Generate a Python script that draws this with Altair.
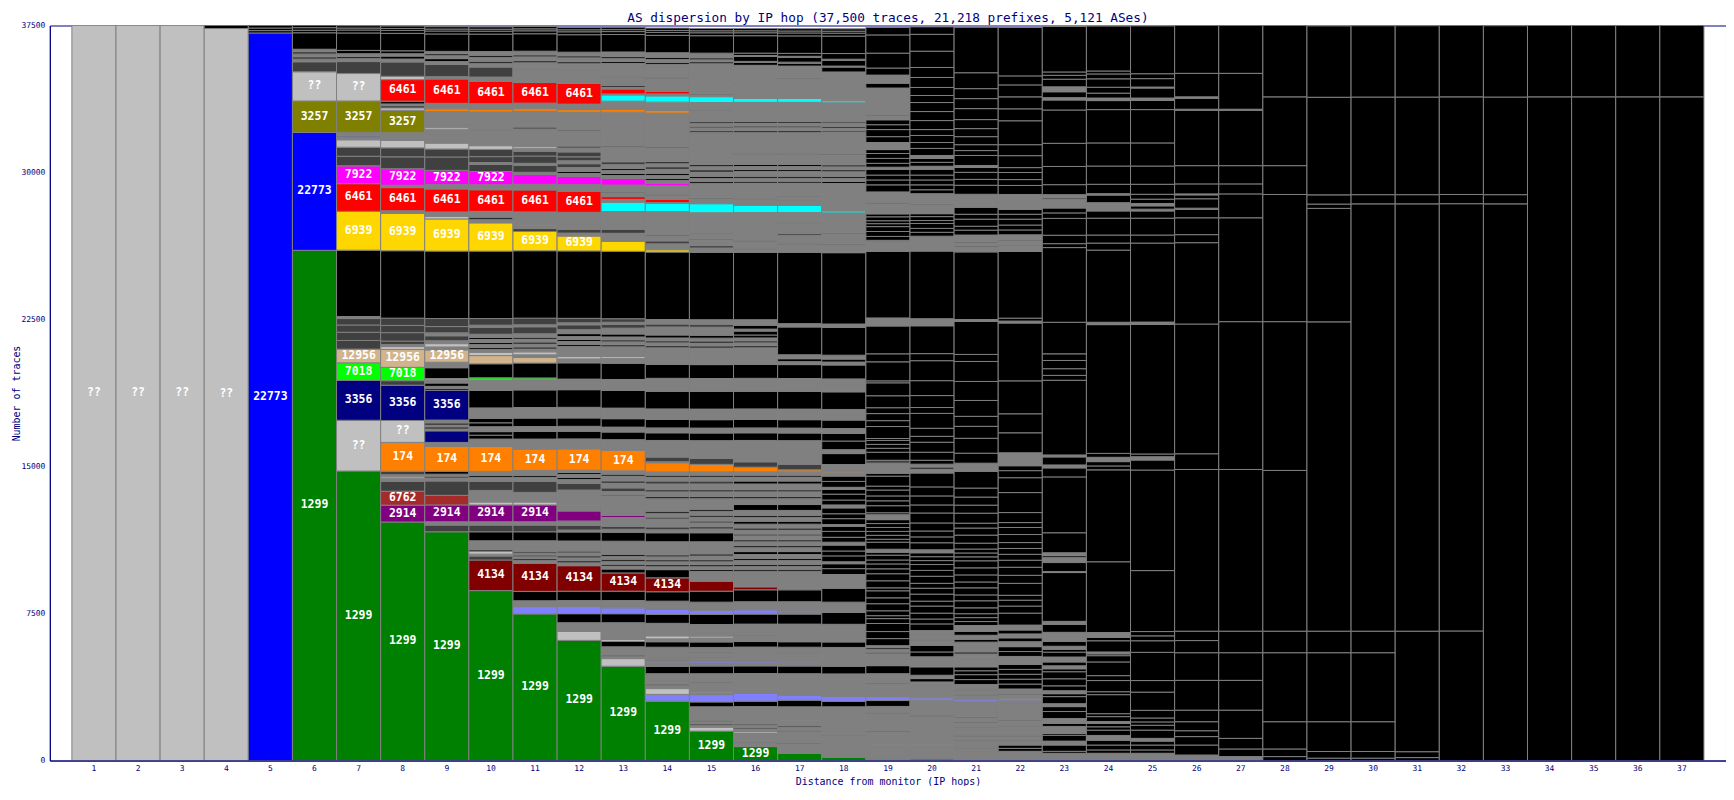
import altair as alt
import pandas as pd

# Segments of each hop column, bottom to top: (number of traces, AS / class key)
# keys: AS numbers, "??" = unresolved, "g" = other AS (gray), "d" = other AS (dark gray),
#       "k" = no response (black), "a" = unlabeled AS (slate blue), "c" = unlabeled AS (cyan)
hop01 = [(37500, "??")]
hop02 = [(37500, "??")]
hop03 = [(37500, "??")]
hop04 = [(37350, "??"), (150, "k")]
hop05 = [(37120, "22773"), (120, "k"), (130, "k"), (130, "k")]
hop06 = [(26030, "1299"), (6010, "22773"), (1610, "3257"), (1490, "??"), (510, "d"), (130, "g"), (130, "d"),
         (130, "g"), (130, "d"), (120, "g"), (840, "k"), (130, "k"), (130, "k"), (120, "k")]
hop07 = [(14770, "1299"), (2590, "??"), (2030, "3356"), (900, "7018"), (700, "12956"), (440, "d"), (420, "d"),
         (370, "d"), (330, "d"), (100, "g"), (3390, "k"), (1980, "6939"), (1410, "6461"), (910, "7922"), (490, "d"),
         (460, "d"), (380, "??"), (150, "g"), (50, "22773"), (180, "g"), (1600, "3257"), (1400, "??"), (610, "d"),
         (150, "g"), (100, "k"), (150, "g"), (170, "k"), (890, "k"), (150, "k"), (100, "k"), (120, "k")]
hop08 = [(12170, "1299"), (860, "2914"), (710, "6762"), (510, "d"), (150, "g"), (80, "??"), (100, "g"), (180, "d"),
         (1470, "174"), (1120, "??"), (1800, "3356"), (230, "d"), (680, "7018"), (910, "12956"), (150, "??"),
         (100, "g"), (180, "d"), (430, "d"), (370, "d"), (370, "d"), (3440, "k"), (1900, "6939"), (140, "g"),
         (1180, "6461"), (120, "g"), (840, "7922"), (610, "d"), (460, "d"), (380, "??"), (390, "g"), (1140, "3257"),
         (130, "??"), (100, "k"), (100, "g"), (140, "k"), (1100, "6461"), (170, "??"), (730, "d"), (150, "g"),
         (150, "k"), (120, "g"), (150, "k"), (890, "k"), (150, "k"), (100, "k"), (120, "k")]
hop09 = [(11670, "1299"), (340, "d"), (170, "g"), (860, "2914"), (490, "6762"), (730, "d"), (150, "g"), (100, "d"),
         (100, "g"), (150, "k"), (1270, "174"), (200, "g"), (590, "3356"), (100, "g"), (100, "k"), (100, "g"),
         (100, "k"), (150, "g"), (1520, "3356"), (100, "3356"), (100, "g"), (170, "k"), (150, "g"), (80, "7018"),
         (550, "k"), (280, "g"), (630, "12956"), (150, "g"), (170, "??"), (150, "g"), (250, "d"), (150, "g"),
         (320, "d"), (410, "d"), (3440, "k"), (1640, "6939"), (140, "??"), (220, "g"), (1170, "6461"), (220, "g"),
         (730, "7922"), (680, "d"), (410, "d"), (300, "??"), (510, "g"), (200, "g"), (100, "??"), (120, "g"),
         (680, "g"), (140, "174"), (280, "g"), (1240, "6461"), (120, "g"), (620, "d"), (150, "g"), (150, "k"),
         (150, "g"), (100, "k"), (120, "g"), (890, "k"), (150, "k"), (100, "k"), (120, "k")]
hop10 = [(8670, "1299"), (1560, "4134"), (200, "d"), (100, "g"), (140, "??"), (100, "d"), (100, "g"), (340, "g"),
         (460, "k"), (340, "d"), (170, "g"), (860, "2914"), (150, "??"), (490, "g"), (100, "g"), (470, "d"),
         (200, "g"), (100, "k"), (200, "g"), (1270, "174"), (380, "g"), (200, "k"), (180, "k"), (250, "g"),
         (200, "k"), (220, "k"), (540, "g"), (900, "k"), (200, "g"), (300, "g"), (140, "7018"), (710, "k"),
         (420, "12956"), (170, "??"), (150, "g"), (100, "k"), (150, "g"), (100, "k"), (150, "g"), (100, "k"),
         (170, "g"), (360, "d"), (100, "g"), (340, "d"), (3440, "k"), (1440, "6939"), (190, "g"), (100, "k"),
         (300, "g"), (1100, "6461"), (250, "g"), (680, "7922"), (360, "d"), (100, "g"), (300, "d"), (370, "d"),
         (190, "??"), (620, "g"), (150, "g"), (50, "3356"), (220, "g"), (680, "g"), (140, "174"), (280, "g"),
         (1140, "6461"), (220, "g"), (510, "d"), (200, "g"), (100, "k"), (200, "g"), (100, "k"), (190, "g"),
         (890, "k"), (150, "k"), (100, "k"), (120, "k")]
hop11 = [(7480, "1299"), (370, "a"), (300, "g"), (480, "k"), (1440, "4134"), (150, "g"), (80, "k"), (100, "g"),
         (80, "k"), (100, "g"), (100, "d"), (190, "g"), (340, "g"), (460, "k"), (340, "d"), (170, "g"), (860, "2914"),
         (150, "??"), (490, "g"), (570, "d"), (200, "g"), (100, "k"), (250, "g"), (1090, "174"), (510, "g"),
         (390, "k"), (250, "g"), (430, "k"), (540, "g"), (900, "k"), (510, "g"), (100, "7018"), (760, "k"),
         (290, "12956"), (130, "g"), (150, "??"), (150, "g"), (100, "k"), (150, "g"), (100, "k"), (150, "g"),
         (100, "k"), (170, "g"), (360, "d"), (100, "g"), (340, "d"), (3440, "k"), (980, "6939"), (150, "d"),
         (140, "g"), (710, "g"), (1120, "6461"), (290, "g"), (510, "7922"), (100, "g"), (360, "d"), (100, "g"),
         (370, "d"), (250, "d"), (150, "g"), (100, "??"), (680, "g"), (200, "g"), (100, "d"), (120, "g"), (680, "g"),
         (140, "174"), (280, "g"), (1050, "6461"), (300, "g"), (360, "g"), (50, "d"), (100, "g"), (200, "g"),
         (100, "k"), (200, "g"), (100, "k"), (190, "g"), (890, "k"), (150, "k"), (100, "k"), (120, "k")]
hop12 = [(6130, "1299"), (460, "??"), (440, "g"), (460, "k"), (370, "a"), (300, "g"), (480, "k"), (1300, "4134"),
         (150, "g"), (100, "k"), (150, "g"), (100, "k"), (150, "g"), (100, "d"), (170, "g"), (340, "g"), (460, "k"),
         (100, "g"), (240, "d"), (220, "g"), (510, "2914"), (250, "g"), (50, "??"), (90, "g"), (680, "g"), (340, "d"),
         (200, "g"), (100, "k"), (150, "g"), (100, "k"), (120, "g"), (1090, "174"), (510, "g"), (390, "k"),
         (250, "g"), (430, "k"), (540, "g"), (900, "k"), (490, "g"), (50, "7018"), (830, "k"), (200, "g"),
         (120, "??"), (370, "g"), (150, "g"), (100, "k"), (150, "g"), (100, "k"), (150, "g"), (150, "k"), (200, "g"),
         (250, "d"), (100, "g"), (230, "d"), (3440, "k"), (760, "6939"), (150, "g"), (200, "d"), (150, "g"),
         (710, "g"), (1070, "6461"), (340, "g"), (420, "7922"), (150, "g"), (100, "k"), (200, "g"), (200, "d"),
         (150, "g"), (200, "d"), (250, "d"), (200, "g"), (100, "d"), (620, "g"), (150, "g"), (50, "k"), (220, "g"),
         (680, "g"), (140, "174"), (280, "g"), (1050, "6461"), (100, "g"), (50, "6461"), (150, "g"), (360, "g"),
         (50, "d"), (100, "g"), (200, "g"), (100, "k"), (200, "g"), (100, "k"), (190, "g"), (890, "k"), (150, "k"),
         (100, "k"), (120, "k")]
hop13 = [(4810, "1299"), (390, "??"), (100, "g"), (80, "d"), (80, "g"), (340, "g"), (280, "k"), (100, "??"),
         (120, "g"), (730, "g"), (460, "k"), (300, "a"), (370, "g"), (480, "k"), (930, "4134"), (200, "k"),
         (150, "g"), (100, "k"), (150, "g"), (100, "k"), (150, "g"), (100, "k"), (250, "g"), (420, "g"), (460, "k"),
         (150, "g"), (150, "d"), (200, "g"), (250, "g"), (100, "2914"), (590, "g"), (410, "g"), (50, "k"), (170, "g"),
         (190, "d"), (250, "g"), (100, "k"), (250, "g"), (100, "k"), (170, "g"), (1050, "174"), (540, "g"),
         (390, "k"), (250, "g"), (430, "k"), (540, "g"), (900, "k"), (510, "g"), (50, "7018"), (830, "k"),
         (250, "g"), (100, "??"), (340, "g"), (150, "g"), (100, "k"), (150, "g"), (100, "k"), (150, "g"), (150, "k"),
         (300, "g"), (200, "d"), (100, "g"), (180, "d"), (3440, "k"), (510, "6939"), (410, "g"), (200, "d"),
         (150, "g"), (760, "g"), (470, "c"), (150, "g"), (140, "6461"), (200, "g"), (50, "k"), (340, "g"),
         (340, "7922"), (150, "g"), (100, "k"), (150, "g"), (100, "k"), (200, "g"), (150, "d"), (240, "g"),
         (510, "g"), (50, "k"), (620, "g"), (430, "g"), (680, "g"), (140, "174"), (420, "g"), (320, "c"), (50, "g"),
         (250, "6461"), (100, "g"), (80, "k"), (110, "g"), (300, "g"), (50, "k"), (460, "g"), (200, "g"), (100, "k"),
         (150, "g"), (100, "k"), (240, "g"), (890, "k"), (150, "k"), (100, "k"), (120, "k")]
hop14 = [(3030, "1299"), (340, "a"), (300, "??"), (150, "g"), (80, "d"), (140, "g"), (390, "g"), (370, "k"),
         (150, "g"), (70, "a"), (100, "g"), (50, "d"), (180, "g"), (430, "g"), (280, "k"), (150, "g"), (150, "??"),
         (50, "g"), (590, "g"), (460, "k"), (250, "a"), (420, "g"), (480, "k"), (710, "4134"), (420, "k"),
         (150, "g"), (100, "k"), (150, "g"), (100, "k"), (150, "g"), (100, "k"), (250, "g"), (420, "g"), (460, "k"),
         (150, "g"), (150, "d"), (200, "g"), (200, "g"), (100, "d"), (200, "g"), (100, "k"), (340, "g"), (300, "g"),
         (100, "k"), (250, "g"), (100, "k"), (300, "g"), (150, "d"), (200, "g"), (100, "k"), (170, "g"),
         (460, "174"), (50, "g"), (240, "d"), (850, "g"), (390, "k"), (250, "g"), (430, "k"), (540, "g"), (900, "k"),
         (660, "g"), (710, "k"), (700, "g"), (150, "g"), (100, "k"), (150, "g"), (100, "k"), (150, "g"), (150, "k"),
         (410, "g"), (150, "d"), (230, "g"), (3440, "k"), (120, "6939"), (300, "g"), (150, "d"), (250, "g"),
         (50, "k"), (390, "g"), (750, "g"), (50, "g"), (420, "c"), (50, "g"), (170, "6461"), (200, "g"), (50, "k"),
         (430, "g"), (130, "7922"), (150, "g"), (100, "k"), (150, "g"), (100, "k"), (200, "g"), (150, "d"),
         (150, "g"), (100, "k"), (190, "g"), (510, "g"), (50, "k"), (620, "g"), (430, "g"), (680, "g"), (140, "174"),
         (420, "g"), (320, "c"), (100, "g"), (140, "6461"), (360, "g"), (300, "g"), (50, "k"), (460, "g"),
         (200, "g"), (100, "k"), (150, "g"), (100, "k"), (240, "g"), (890, "k"), (150, "k"), (100, "k"), (120, "k")]
hop15 = [(1500, "1299"), (200, "??"), (100, "g"), (80, "d"), (100, "g"), (80, "d"), (680, "g"), (250, "k"),
         (370, "a"), (90, "g"), (50, "??"), (460, "g"), (50, "d"), (420, "g"), (390, "k"), (150, "g"), (80, "a"),
         (200, "g"), (50, "d"), (200, "g"), (50, "d"), (220, "g"), (280, "k"), (200, "g"), (100, "??"), (590, "g"),
         (510, "k"), (220, "a"), (410, "g"), (560, "k"), (510, "4134"), (340, "g"), (150, "g"), (100, "k"),
         (150, "g"), (100, "k"), (150, "g"), (100, "k"), (200, "g"), (100, "k"), (200, "g"), (420, "g"), (460, "k"),
         (200, "g"), (100, "k"), (200, "g"), (100, "d"), (200, "g"), (100, "k"), (200, "g"), (100, "k"), (240, "g"),
         (300, "g"), (100, "k"), (250, "g"), (100, "k"), (300, "g"), (150, "d"), (200, "g"), (100, "k"), (170, "g"),
         (380, "174"), (300, "d"), (910, "g"), (390, "k"), (250, "g"), (430, "k"), (540, "g"), (900, "k"),
         (660, "g"), (710, "k"), (700, "g"), (150, "g"), (100, "k"), (150, "g"), (100, "k"), (150, "g"), (150, "k"),
         (410, "g"), (150, "d"), (230, "g"), (3440, "k"), (220, "g"), (120, "d"), (300, "g"), (50, "k"), (250, "g"),
         (50, "d"), (270, "g"), (760, "g"), (460, "c"), (250, "g"), (50, "k"), (590, "g"), (150, "g"), (100, "k"),
         (150, "g"), (100, "k"), (200, "g"), (150, "d"), (150, "g"), (100, "k"), (320, "g"), (1180, "g"),
         (150, "g"), (80, "k"), (150, "g"), (80, "k"), (150, "g"), (80, "k"), (420, "g"), (150, "g"), (50, "k"),
         (360, "g"), (300, "c"), (100, "g"), (50, "k"), (460, "g"), (1070, "g"), (100, "k"), (100, "g"), (100, "k"),
         (240, "g"), (890, "k"), (150, "k"), (100, "k"), (120, "k")]
hop16 = [(710, "1299"), (200, "g"), (50, "d"), (340, "g"), (100, "g"), (80, "??"), (130, "g"), (80, "d"), (100, "g"),
         (80, "d"), (200, "g"), (680, "g"), (280, "k"), (390, "a"), (1020, "g"), (390, "k"), (150, "g"), (80, "a"),
         (730, "g"), (280, "k"), (300, "g"), (50, "d"), (540, "g"), (510, "k"), (220, "a"), (410, "g"), (610, "k"),
         (150, "4134"), (650, "g"), (150, "g"), (100, "k"), (150, "g"), (100, "k"), (200, "g"), (100, "k"),
         (200, "g"), (150, "k"), (200, "g"), (100, "k"), (200, "g"), (100, "k"), (200, "g"), (100, "d"), (200, "g"),
         (100, "k"), (200, "g"), (150, "k"), (200, "g"), (100, "k"), (250, "g"), (300, "k"), (300, "g"), (100, "k"),
         (250, "g"), (100, "k"), (300, "g"), (150, "k"), (200, "g"), (100, "k"), (170, "g"), (240, "174"),
         (270, "d"), (1090, "g"), (390, "k"), (250, "g"), (430, "k"), (540, "g"), (900, "k"), (660, "g"), (710, "k"),
         (700, "g"), (150, "g"), (100, "k"), (150, "g"), (100, "k"), (150, "g"), (150, "k"), (200, "k"), (100, "g"),
         (200, "k"), (280, "g"), (3440, "k"), (150, "g"), (50, "k"), (140, "g"), (200, "g"), (80, "d"), (650, "g"),
         (760, "g"), (370, "c"), (300, "g"), (50, "k"), (630, "g"), (150, "g"), (100, "k"), (150, "g"), (100, "k"),
         (250, "g"), (100, "k"), (150, "g"), (100, "k"), (320, "g"), (200, "g"), (50, "k"), (930, "g"), (150, "g"),
         (80, "k"), (150, "g"), (80, "k"), (150, "g"), (80, "k"), (420, "g"), (560, "g"), (200, "c"), (710, "g"),
         (50, "k"), (930, "g"), (150, "k"), (50, "g"), (250, "k"), (50, "g"), (120, "k"), (890, "k"), (150, "k"),
         (100, "k"), (120, "k")]
hop17 = [(370, "1299"), (340, "g"), (150, "g"), (50, "k"), (560, "g"), (80, "d"), (150, "g"), (80, "d"), (280, "g"),
         (680, "g"), (340, "k"), (250, "a"), (1100, "g"), (390, "k"), (200, "g"), (50, "a"), (410, "g"), (50, "d"),
         (250, "g"), (280, "k"), (900, "g"), (510, "k"), (100, "g"), (70, "a"), (50, "g"), (410, "g"), (610, "k"),
         (50, "4134"), (750, "g"), (150, "g"), (100, "k"), (150, "g"), (100, "k"), (200, "g"), (100, "k"),
         (200, "g"), (150, "k"), (200, "g"), (100, "k"), (200, "g"), (100, "k"), (200, "g"), (100, "d"), (200, "g"),
         (100, "k"), (200, "g"), (150, "k"), (200, "g"), (100, "k"), (250, "g"), (300, "k"), (300, "g"), (100, "k"),
         (250, "g"), (100, "k"), (300, "g"), (150, "k"), (200, "g"), (100, "k"), (170, "g"), (100, "174"),
         (290, "d"), (1200, "g"), (390, "k"), (250, "g"), (430, "k"), (540, "g"), (900, "k"), (660, "g"), (710, "k"),
         (150, "g"), (150, "k"), (200, "g"), (1420, "k"), (170, "g"), (3640, "k"), (410, "g"), (50, "k"), (410, "g"),
         (100, "d"), (300, "g"), (200, "g"), (50, "k"), (510, "g"), (360, "c"), (250, "g"), (50, "k"), (150, "g"),
         (50, "k"), (490, "g"), (150, "g"), (100, "k"), (150, "g"), (100, "k"), (250, "g"), (100, "k"), (150, "g"),
         (100, "k"), (320, "g"), (200, "g"), (50, "k"), (930, "g"), (150, "g"), (80, "k"), (150, "g"), (80, "k"),
         (150, "g"), (80, "k"), (420, "g"), (560, "g"), (200, "c"), (710, "g"), (300, "g"), (50, "k"), (590, "g"),
         (150, "k"), (50, "g"), (250, "k"), (50, "g"), (150, "k"), (890, "k"), (150, "k"), (100, "k"), (120, "k")]
hop18 = [(170, "1299"), (490, "g"), (610, "g"), (50, "d"), (690, "g"), (730, "g"), (280, "k"), (250, "a"),
         (1150, "g"), (390, "k"), (150, "g"), (50, "a"), (760, "g"), (280, "k"), (900, "g"), (610, "k"), (50, "a"),
         (470, "g"), (710, "k"), (700, "g"), (300, "k"), (250, "k"), (100, "g"), (300, "k"), (250, "k"), (300, "k"),
         (150, "g"), (250, "k"), (300, "k"), (250, "k"), (100, "g"), (300, "k"), (250, "k"), (300, "k"), (150, "g"),
         (250, "k"), (300, "k"), (250, "k"), (100, "g"), (300, "k"), (270, "k"), (200, "g"),
         (50, "174"), (340, "g"), (560, "k"),
         (200, "g"), (440, "k"), (390, "k"), (250, "g"), (430, "k"), (540, "g"), (900, "k"), (660, "g"), (710, "k"),
         (150, "g"), (150, "k"), (200, "g"), (1420, "k"), (170, "g"), (3640, "k"), (410, "g"), (50, "k"), (510, "g"),
         (50, "k"), (250, "g"), (760, "g"), (100, "c"), (1250, "g"), (150, "g"), (100, "k"), (150, "g"), (100, "k"),
         (250, "g"), (100, "k"), (150, "g"), (100, "k"), (320, "g"), (200, "g"), (50, "k"), (930, "g"), (150, "g"),
         (80, "k"), (150, "g"), (80, "k"), (150, "g"), (80, "k"), (420, "g"), (560, "g"), (100, "c"), (810, "g"),
         (660, "g"), (250, "k"), (50, "g"), (300, "k"), (50, "g"), (290, "k"), (890, "k"), (150, "k"), (100, "k"),
         (120, "k")]
hop19 = [(70, "1299"), (730, "g"), (650, "g"), (50, "k"), (910, "g"), (50, "k"), (300, "g"), (300, "k"), (200, "a"),
         (660, "g"), (50, "k"), (460, "g"), (410, "k"), (610, "g"), (80, "k"), (150, "g"), (80, "k"), (100, "g"),
         (360, "k"), (360, "k"), (410, "k"), (250, "k"), (150, "k"), (250, "k"), (360, "k"), (300, "k"), (360, "k"),
         (150, "k"), (360, "k"), (360, "k"), (250, "k"), (250, "k"), (200, "k"), (250, "k"), (150, "k"), (150, "g"),
         (360, "k"), (150, "k"), (200, "k"), (200, "k"), (200, "k"), (200, "k"), (200, "k"), (250, "g"), (100, "k"),
         (360, "k"), (250, "k"), (250, "k"), (300, "k"), (200, "k"), (510, "k"), (150, "k"), (510, "g"), (150, "d"),
         (410, "k"), (200, "k"), (200, "k"), (200, "k"), (100, "k"), (610, "k"), (300, "k"), (360, "k"), (300, "k"),
         (610, "k"), (660, "k"), (100, "k"), (970, "k"), (410, "k"), (1420, "k"), (410, "g"), (3400, "k"),
         (510, "g"), (50, "k"), (200, "k"), (250, "k"), (250, "k"), (150, "k"), (150, "k"), (200, "k"), (150, "k"),
         (510, "g"), (50, "k"), (560, "g"), (360, "k"), (250, "k"), (250, "k"), (300, "k"), (100, "g"), (200, "k"),
         (250, "k"), (250, "k"), (200, "k"), (360, "g"), (300, "k"), (360, "k"), (250, "k"), (250, "k"), (200, "g"),
         (50, "k"), (510, "g"), (860, "g"), (250, "k"), (410, "g"), (360, "k"), (760, "k"), (930, "k"), (380, "k")]
hop20 = [(80, "1299"), (720, "g"), (630, "g"), (50, "k"), (340, "g"), (440, "g"), (50, "k"), (150, "g"), (620, "g"),
         (120, "a"), (810, "g"), (170, "k"), (170, "g"), (430, "k"), (510, "g"), (250, "k"), (340, "k"), (250, "g"),
         (50, "k"), (200, "g"), (50, "k"), (200, "g"), (340, "k"), (250, "k"), (300, "k"), (360, "k"), (250, "k"),
         (360, "k"), (300, "k"), (250, "k"), (360, "k"), (300, "k"), (300, "k"), (200, "k"), (200, "k"), (200, "k"),
         (150, "g"), (360, "k"), (300, "k"), (300, "k"), (410, "k"), (510, "k"), (410, "k"), (460, "k"), (460, "k"),
         (710, "k"), (200, "g"), (100, "k"), (150, "g"), (200, "k"), (410, "k"), (510, "k"), (300, "k"), (410, "k"),
         (760, "k"), (300, "k"), (610, "k"), (760, "k"), (1020, "k"), (360, "k"), (1420, "k"), (360, "g"),
         (3450, "k"), (760, "g"), (200, "k"), (200, "k"), (250, "k"), (150, "k"), (200, "k"), (150, "k"), (460, "g"),
         (50, "k"), (510, "g"), (200, "k"), (250, "k"), (250, "k"), (250, "k"), (300, "k"), (150, "g"), (200, "k"),
         (200, "k"), (150, "g"), (360, "k"), (300, "k"), (360, "k"), (300, "k"), (460, "k"), (460, "k"), (460, "k"),
         (360, "k"), (410, "k"), (510, "k"), (510, "k"), (830, "k"), (860, "k"), (380, "k")]
hop21 = [(620, "g"), (50, "k"), (120, "g"), (200, "g"), (50, "k"), (200, "g"), (50, "k"), (190, "g"), (200, "g"),
         (50, "k"), (200, "g"), (50, "k"), (200, "g"), (50, "k"), (250, "g"), (250, "g"), (300, "g"), (100, "a"),
         (200, "g"), (50, "k"), (200, "g"), (50, "k"), (250, "g"), (250, "k"), (250, "k"), (200, "k"), (200, "k"),
         (510, "g"), (150, "g"), (100, "k"), (250, "g"), (250, "g"), (150, "k"), (200, "g"), (200, "k"), (300, "g"),
         (200, "k"), (200, "k"), (200, "k"), (300, "k"), (360, "k"), (300, "k"), (360, "k"), (300, "k"), (360, "k"),
         (360, "k"), (360, "k"), (200, "k"), (200, "k"), (200, "k"), (300, "k"), (410, "k"), (360, "k"), (250, "k"),
         (510, "k"), (410, "k"), (410, "k"), (460, "k"), (860, "k"), (410, "g"), (510, "k"), (760, "k"), (610, "k"),
         (510, "k"), (810, "k"), (970, "k"), (1020, "k"), (360, "k"), (1680, "k"), (100, "g"), (3450, "k"),
         (250, "g"), (50, "k"), (150, "g"), (50, "k"), (360, "g"), (250, "k"), (200, "k"), (360, "k"), (250, "k"),
         (360, "k"), (660, "g"), (460, "k"), (300, "k"), (360, "k"), (250, "k"), (100, "g"), (510, "k"), (250, "k"),
         (300, "k"), (410, "k"), (410, "k"), (460, "k"), (560, "k"), (510, "k"), (510, "k"), (810, "k"), (2320, "k")]
hop22 = [(470, "g"), (150, "k"), (170, "k"), (200, "g"), (50, "k"), (200, "g"), (50, "k"), (190, "g"), (250, "g"),
         (50, "k"), (250, "g"), (50, "k"), (410, "g"), (560, "g"), (100, "a"), (200, "g"), (50, "k"), (250, "g"),
         (250, "k"), (250, "k"), (250, "k"), (250, "k"), (250, "k"), (410, "g"), (250, "k"), (250, "k"), (250, "g"),
         (200, "k"), (200, "g"), (200, "k"), (250, "g"), (610, "k"), (360, "k"), (300, "k"), (250, "k"), (610, "k"),
         (410, "k"), (410, "k"), (360, "k"), (300, "k"), (300, "k"), (300, "k"), (410, "k"), (360, "k"), (250, "k"),
         (510, "k"), (1020, "k"), (760, "k"), (360, "k"), (250, "k"), (660, "g"), (1020, "k"), (970, "k"),
         (1680, "k"), (2950, "k"), (100, "g"), (150, "k"), (3400, "k"), (300, "g"), (50, "k"), (200, "g"), (50, "k"),
         (250, "g"), (250, "k"), (250, "k"), (300, "k"), (250, "k"), (250, "k"), (760, "g"), (460, "k"), (300, "k"),
         (360, "k"), (250, "k"), (610, "k"), (560, "k"), (1220, "k"), (610, "k"), (610, "k"), (610, "k"), (460, "k"),
         (2470, "k")]
hop23 = [(370, "g"), (100, "k"), (320, "k"), (200, "g"), (300, "k"), (90, "k"), (360, "g"), (150, "k"), (250, "g"),
         (360, "k"), (250, "k"), (150, "g"), (360, "k"), (150, "k"), (150, "g"), (250, "k"), (360, "k"), (360, "k"),
         (150, "k"), (150, "g"), (200, "k"), (250, "g"), (250, "k"), (150, "k"), (150, "g"), (250, "k"), (460, "g"),
         (410, "k"), (150, "g"), (2490, "k"), (50, "g"), (460, "k"), (50, "k"), (200, "g"), (100, "k"), (150, "g"),
         (1020, "k"), (2850, "k"), (460, "k"), (150, "g"), (410, "k"), (100, "g"), (3810, "k"), (250, "k"),
         (340, "k"), (420, "k"), (340, "k"), (1610, "k"), (3810, "k"), (200, "k"), (430, "k"), (860, "k"),
         (280, "k"), (250, "k"), (430, "g"), (80, "k"), (170, "g"), (510, "k"), (930, "k"), (1180, "k"), (1700, "k"),
         (510, "k"), (120, "g"), (300, "k"), (250, "g"), (390, "k"), (200, "k"), (170, "k"), (2320, "k")]
hop24 = [(370, "g"), (170, "k"), (250, "k"), (250, "k"), (240, "g"), (270, "k"), (170, "k"), (170, "k"), (100, "g"),
         (250, "k"), (150, "k"), (970, "k"), (150, "k"), (570, "k"), (250, "k"), (700, "k"), (320, "k"), (90, "k"),
         (100, "g"), (570, "k"), (170, "k"), (250, "g"), (3610, "k"), (4690, "k"), (200, "k"), (220, "k"),
         (220, "g"), (200, "k"), (6570, "k"), (120, "g"), (3680, "k"), (360, "k"), (410, "k"), (860, "k"),
         (370, "k"), (420, "g"), (390, "k"), (70, "g"), (480, "k"), (930, "k"), (1180, "k"), (1700, "k"), (460, "k"),
         (130, "g"), (250, "k"), (300, "k"), (430, "k"), (250, "k"), (150, "k"), (2290, "k")]
hop25 = [(370, "g"), (170, "k"), (250, "k"), (200, "k"), (140, "g"), (420, "k"), (250, "k"), (170, "k"), (200, "k"),
         (390, "k"), (930, "k"), (590, "k"), (1440, "k"), (590, "k"), (250, "k"), (220, "k"), (3110, "k"),
         (5130, "k"), (510, "k"), (170, "g"), (140, "k"), (6610, "k"), (120, "g"), (4030, "k"), (410, "k"),
         (860, "k"), (370, "k"), (90, "g"), (170, "k"), (120, "g"), (220, "k"), (250, "k"), (510, "k"), (930, "k"),
         (1180, "k"), (1700, "k"), (470, "k"), (120, "g"), (510, "k"), (50, "g"), (430, "k"), (250, "k"), (2440, "k")]
hop26 = [(280, "g"), (510, "k"), (430, "k"), (300, "k"), (460, "k"), (590, "k"), (1520, "k"), (1410, "k"),
         (620, "k"), (480, "k"), (8250, "k"), (800, "k"), (6620, "k"), (4150, "k"), (410, "k"), (860, "k"),
         (440, "k"), (50, "g"), (480, "k"), (200, "k"), (50, "g"), (510, "k"), (930, "k"), (2830, "k"), (50, "g"),
         (560, "k"), (70, "g"), (1200, "k"), (2440, "k")]
hop27 = [(200, "g"), (390, "k"), (540, "k"), (1440, "k"), (1520, "k"), (1410, "k"), (1100, "k"), (8250, "k"),
         (7540, "k"), (5300, "k"), (1220, "k"), (510, "k"), (930, "k"), (2830, "k"), (50, "g"), (1830, "k"),
         (2440, "k")]
hop28 = [(200, "k"), (390, "k"), (1390, "k"), (3520, "k"), (1100, "k"), (8200, "k"), (7590, "k"), (6490, "k"),
         (1470, "k"), (3510, "k"), (3640, "k")]
hop29 = [(120, "k"), (340, "k"), (1520, "k"), (3520, "k"), (1100, "k"), (15780, "k"), (5790, "k"), (220, "k"),
         (470, "k"), (4980, "k"), (3640, "k")]
hop30 = [(120, "k"), (340, "k"), (1520, "k"), (3520, "k"), (1100, "k"), (21800, "k"), (470, "k"), (4980, "k"),
         (3640, "k")]
hop31 = [(150, "k"), (300, "k"), (6150, "k"), (21800, "k"), (470, "k"), (4980, "k"), (3640, "k")]
hop32 = [(6610, "k"), (21800, "k"), (470, "k"), (4980, "k"), (3640, "k")]
hop33 = [(28400, "k"), (470, "k"), (4980, "k"), (3640, "k")]
hop34 = [(33860, "k"), (3640, "k")]
hop35 = [(33860, "k"), (3640, "k")]
hop36 = [(33860, "k"), (3640, "k")]
hop37 = [(33860, "k"), (3640, "k")]

hops = [hop01, hop02, hop03, hop04, hop05, hop06, hop07, hop08, hop09, hop10, hop11, hop12, hop13, hop14,
        hop15, hop16, hop17, hop18, hop19, hop20, hop21, hop22, hop23, hop24, hop25, hop26, hop27, hop28,
        hop29, hop30, hop31, hop32, hop33, hop34, hop35, hop36, hop37]

key_colors = {
    "??": "#C0C0C0", "22773": "#0000FF", "1299": "#008000", "3257": "#808000", "6461": "#FF0000",
    "7922": "#FF00FF", "6939": "#FFD700", "12956": "#D2B48C", "7018": "#00FF00", "3356": "#000080",
    "174": "#FF8000", "6762": "#A52A2A", "2914": "#800080", "4134": "#800000",
    "a": "#8080FF", "c": "#00FFFF", "g": "#808080", "d": "#404040", "k": "#000000",
}
unnamed = {"a", "c", "g", "d", "k"}

rows = []
for i, segs in enumerate(hops, start=1):
    base = 0
    for j, (n, key) in enumerate(segs):
        show = key not in unnamed and n >= 600
        rows.append({"hop": i, "seg": j, "key": key, "y0": base, "y1": base + n,
                     "ym": base + n / 2, "label": key if show else ""})
        base += n
df = pd.DataFrame(rows)

NAVY = "#000080"
FONT = "DejaVu Sans Mono"

xenc = alt.X("hop:O", scale=alt.Scale(paddingInner=0, paddingOuter=0.5),
             axis=alt.Axis(title="Distance from monitor (IP hops)", labelAngle=0, ticks=False,
                           labelPadding=4, titlePadding=4))
yaxis = alt.Axis(values=[0, 7500, 15000, 22500, 30000, 37500], format="d", grid=False, ticks=False,
                 labelPadding=5, titleX=-33, titleY=369, titleAngle=270, titleAlign="center",
                 titleBaseline="middle")
yscale = alt.Scale(domain=[0, 37500], nice=False, zero=True)

bars = alt.Chart(df).mark_rect(stroke="#808080", strokeWidth=1, clip=True).encode(
    x=xenc,
    y=alt.Y("y0:Q", scale=yscale, axis=yaxis, title="Number of traces"),
    y2="y1:Q",
    color=alt.Color("key:N", scale=alt.Scale(domain=list(key_colors.keys()),
                                             range=list(key_colors.values())), legend=None),
)

text = alt.Chart(df[df["label"] != ""]).mark_text(
    color="white", font=FONT, fontWeight="bold", fontSize=11.5, baseline="middle", align="center"
).encode(
    x=xenc,
    y=alt.Y("ym:Q", scale=yscale, axis=yaxis, title="Number of traces"),
    text="label:N",
)

chart = alt.layer(bars, text).properties(
    width=1683, height=738,
    padding={"left": 42, "top": 16, "right": 0, "bottom": 24},
    autosize=alt.AutoSizeParams(type="none"),
    title=alt.TitleParams(
        text="AS dispersion by IP hop (37,500 traces, 21,218 prefixes, 5,121 ASes)",
        font=FONT, fontSize=12.8, fontWeight="normal", color=NAVY, anchor="middle", offset=0, dy=3),
).configure_view(stroke=NAVY, strokeWidth=1).configure_axis(
    domainColor=NAVY, labelColor=NAVY, titleColor=NAVY, labelFont=FONT, titleFont=FONT,
    labelFontSize=8, titleFontSize=10, titleFontWeight="normal", domainWidth=1,
)

chart.save("out.html", embed_options={"renderer": "svg", "actions": False})
